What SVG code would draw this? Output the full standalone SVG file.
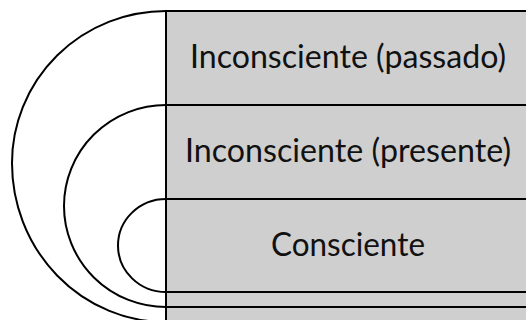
<svg xmlns="http://www.w3.org/2000/svg" width="526" height="320" viewBox="0 0 526 320">
<style>
.line{stroke:#000;stroke-width:2;fill:none}
.arc{stroke:#000;stroke-width:2;fill:none}
.box{fill:#cfcfcf;stroke:none}
.lbl{font-family:Lato,"Open Sans",sans-serif;font-size:32px;fill:#111;text-anchor:middle}
</style>
<rect width="526" height="320" fill="#fff"/>
<g id="background">
<rect class="box" x="166" y="11" width="360" height="309"/>
</g>
<g id="node-passado">
<line class="line" x1="166" y1="11" x2="526" y2="11"/>
<text class="lbl" x="348" y="68" textLength="316" lengthAdjust="spacingAndGlyphs">Inconsciente (passado)</text>
</g>
<g id="node-presente">
<line class="line" x1="166" y1="105" x2="526" y2="105"/>
<text class="lbl" x="348" y="162" textLength="326" lengthAdjust="spacingAndGlyphs">Inconsciente (presente)</text>
</g>
<g id="node-consciente">
<line class="line" x1="166" y1="199" x2="526" y2="199"/>
<line class="line" x1="166" y1="292" x2="526" y2="292"/>
<text class="lbl" x="348" y="256" textLength="154" lengthAdjust="spacingAndGlyphs">Consciente</text>
</g>
<g id="connectors">
<line class="line" x1="166" y1="307" x2="526" y2="307"/>
<line class="line" x1="166" y1="10" x2="166" y2="320"/>
<path class="arc" d="M166,11 A154,152 0 0 0 12,163 A154,159 0 0 0 166,322"/>
<path class="arc" d="M166,105 A102,101 0 0 0 166,307"/>
<path class="arc" d="M166,199 A48,46.5 0 0 0 166,292"/>
</g>
</svg>
